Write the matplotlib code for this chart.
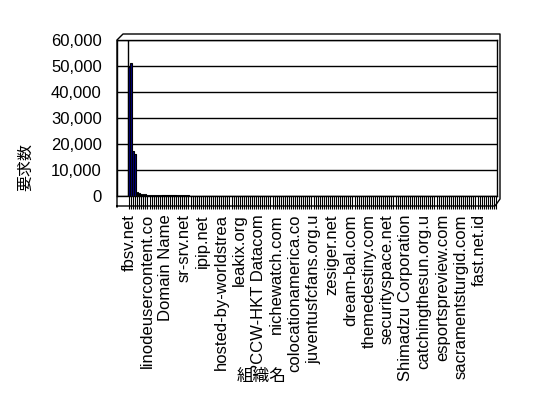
import matplotlib
matplotlib.use("Agg")
import matplotlib.pyplot as plt
from matplotlib.lines import Line2D
from matplotlib.ticker import FuncFormatter

# 組織名 shown on the axis (every 9th category is labelled)
shown_names = ["fbsv.net", "linodeusercontent.co", "Domain Name", "sr-srv.net",
               "ipip.net", "hosted-by-worldstrea", "leakix.org", "PCCW-HKT Datacom",
               "nichewatch.com", "colocationamerica.co", "juventusfcfans.org.u",
               "zesiger.net", "dream-bal.com", "themedestiny.com", "securityspace.net",
               "Shimadzu Corporation", "catchingthesun.org.u", "esportspreview.com",
               "sacramentsturgid.com", "fast.net.id"]
label_step = 9

# 要求数 per organisation
requests = [
    49500, 51000, 17300, 16200, 1400, 1000, 700, 650, 600, 550,
    500, 450, 420, 400, 400, 380, 360, 340, 320, 300,
    280, 260, 520, 250, 240, 230, 220, 210, 200, 195,
    190, 185, 180, 175, 170, 165, 160, 155, 150, 148,
    145, 142, 140, 137, 135, 132, 130, 128, 125, 122,
    120, 118, 115, 112, 110, 108, 105, 102, 100, 98,
    96, 94, 92, 90, 88, 86, 84, 82, 80, 79,
    78, 77, 76, 75, 74, 73, 72, 71, 70, 69,
    68, 67, 66, 65, 64, 63, 62, 61, 60, 59,
    58, 57, 56, 55, 54, 53, 52, 51, 50, 49,
    48, 47, 46, 45, 44, 44, 43, 43, 42, 42,
    41, 41, 40, 40, 39, 39, 38, 38, 37, 37,
    36, 36, 35, 35, 34, 34, 33, 33, 32, 32,
    31, 31, 30, 30, 29, 29, 28, 28, 27, 27,
    26, 26, 25, 25, 24, 24, 23, 23, 22, 22,
    21, 21, 20, 20, 19, 19, 18, 18, 17, 17,
    16, 16, 15, 15, 14, 14, 13, 13, 12, 12,
    11, 11, 10, 10, 9, 9, 8, 8, 7, 7,
]
y_ticks = [0, 10000, 20000, 30000, 40000, 50000, 60000]

W, H = 548, 398
fig = plt.figure(figsize=(W / 100, H / 100), dpi=100)


def fx(px):
    return px / W


def fy(py):
    return 1 - py / H


ax = fig.add_axes([fx(117), fy(196), fx(497) - fx(117), fy(40) - fy(196)])

n = len(requests)
x = list(range(n))
ax.bar(x, requests, width=0.7, color="#000080", edgecolor="black", linewidth=0.8, zorder=3)

ax.set_ylim(0, 60000)
ax.set_yticks(y_ticks)
ax.yaxis.set_major_formatter(FuncFormatter(lambda v, p: f"{int(v):,}"))
ax.grid(axis="y", color="black", linewidth=1)
ax.set_axisbelow(True)
# back wall starts a bit right of the side wall
first = -0.5 - 11 / ((497 - 128) / n)
ax.set_xlim(first, n - 0.5)
ax.axvline(-0.5, color="black", linewidth=1, zorder=2)

ax.set_xticks(x)
labels = [""] * n
for i, name in enumerate(shown_names):
    labels[i * label_step] = name
ax.set_xticklabels(labels, rotation=90, fontsize=12, family="Liberation Sans")
ax.tick_params(axis="x", length=9, width=0.8, pad=4, direction="out")
ax.tick_params(axis="y", length=0, pad=11, labelsize=12)
for t in ax.get_yticklabels():
    t.set_family("Liberation Sans")

for s in ax.spines.values():
    s.set_linewidth(1)
    s.set_color("black")

# 3D-ish outer frame of the chart walls
frame = [
    ([117, 117, 123, 500, 500, 495, 117], [207, 40, 34, 34, 199, 206, 206]),
]
for xs, ys in frame:
    fig.add_artist(Line2D([fx(v) for v in xs], [fy(v) for v in ys],
                          color="black", linewidth=1, transform=fig.transFigure))

fig.text(fx(26), fy(167), "要求数", rotation=90, ha="center", va="center",
         fontsize=11.5, family=["Noto Sans CJK JP", "DejaVu Sans"])
fig.text(fx(262), fy(376), "組織名", ha="center", va="center",
         fontsize=12, family=["Noto Sans CJK JP", "DejaVu Sans"],
         bbox=dict(facecolor="white", edgecolor="none", pad=0))

fig.savefig("out.png", dpi=100)
